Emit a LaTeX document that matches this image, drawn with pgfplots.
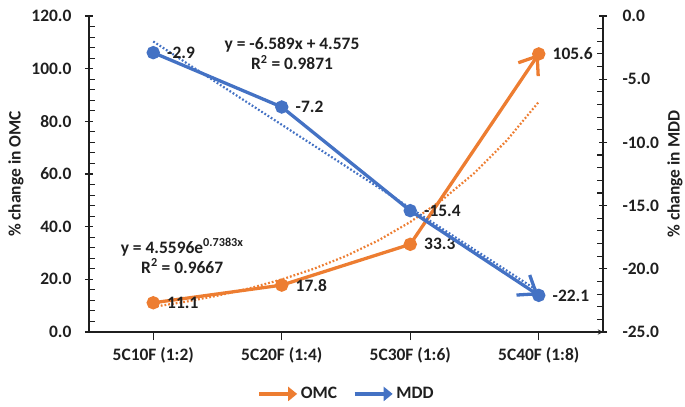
\documentclass[border=0pt]{standalone}
\usepackage{pgfplots}
\pgfplotsset{compat=1.18}
\usepackage{fontspec}
\setmainfont{Carlito}
\usetikzlibrary{arrows.meta}
\definecolor{omc}{HTML}{ED7D31}
\definecolor{mdd}{HTML}{4472C4}
\definecolor{txt}{HTML}{1F1F1F}
\newcommand{\chartfont}{\fontsize{17.5}{20}\selectfont\bfseries}

\pgfplotsset{
  base/.style={
    width=514bp, height=316bp, scale only axis,
    xmin=-0.5, xmax=3.5,
    /pgf/number format/assume math mode=true,
    /pgf/number format/fixed, /pgf/number format/fixed zerofill,
    /pgf/number format/precision=1,
    tick label style={font=\chartfont, text=txt},
    label style={font=\chartfont, text=txt},
    axis line style={line width=1.3pt, txt},
    tick style={line width=1.1pt, txt},
    tick align=center, major tick length=8bp, minor tick length=6bp,
    clip=false,
  },
  trend/.style={line width=2.2pt, dash pattern=on 1.8pt off 2pt, forget plot},
  series/.style={line width=3.3pt, mark=*, mark size=5bp, forget plot,
    -{Straight Barb[length=16bp, width=24bp]},
    nodes near coords, point meta=y,
    every node near coord/.append style={font=\chartfont, text=txt, anchor=west, xshift=9bp}},
}

\begin{document}
\begin{tikzpicture}
% left axis: OMC
\begin{axis}[base,
  axis x line=bottom, axis y line*=left,
  ymin=0, ymax=120, ytick={0,20,...,120}, minor y tick num=4,
  minor y tick style={xshift=3bp},
  yticklabel style={xshift=-10bp},
  xtick={0,1,2,3},
  xticklabels={5C10F (1:2),5C20F (1:4),5C30F (1:6),5C40F (1:8)},
  x tick style={yshift=-4bp},
  xticklabel style={yshift=-8bp},
  ylabel={\% change in OMC},
  ylabel style={at={(axis description cs:-0.142,0.5)}, anchor=center, rotate=0},
]
% exponential trendline y = 4.5596 e^{0.7383 x}
\addplot[trend, omc] coordinates {
  (0,9.540) (0.25,11.474) (0.5,13.800) (0.75,16.598) (1,19.963)
  (1.25,24.010) (1.5,28.877) (1.75,34.731) (2,41.770) (2.25,50.233)
  (2.5,60.42) (2.75,72.67) (3,87.39)};
\addplot[series, omc] coordinates {(0,11.1) (1,17.8) (2,33.3) (3,105.6)};
\node[font=\chartfont, text=txt, align=center] at (axis cs:0.225,28.9)
  {y = 4.5596e\textsuperscript{0.7383x}\\R\textsuperscript{2} = 0.9667};
\end{axis}
% right axis: MDD
\begin{axis}[base,
  axis x line=none, axis y line*=right,
  ymin=-25, ymax=0, ytick={-25,-20,...,0}, minor y tick num=4,
  minor y tick style={xshift=-3bp},
  yticklabel style={xshift=12bp},
  ylabel={\% change in MDD},
  ylabel style={at={(axis description cs:1.140,0.5)}, anchor=center, rotate=0},
  legend style={at={(axis description cs:0.501,-0.196)}, anchor=center, draw=none,
    font=\chartfont, text=txt, legend columns=2,
    /tikz/every even column/.append style={column sep=14bp}},
  legend image code/.code={
    \draw[#1, line width=3.3pt, -{Triangle[length=9bp, width=14bp]}]
      (0bp,0bp) -- (38bp,0bp);},
]
% linear trendline y = -6.589 x + 4.575
\addplot[trend, mdd] coordinates {(0,-2.014) (3,-21.782)};
\addplot[series, mdd] coordinates {(0,-2.9) (1,-7.2) (2,-15.4) (3,-22.1)};
\node[font=\chartfont, text=txt, align=center] at (axis cs:1.08,-3.0)
  {y = -6.589x + 4.575\\R\textsuperscript{2} = 0.9871};
\addlegendimage{omc}
\addlegendentry{OMC}
\addlegendimage{mdd}
\addlegendentry{MDD}
\end{axis}
\pgfresetboundingbox
\useasboundingbox (-89bp,-75bp) rectangle (596bp,332bp);
\end{tikzpicture}
\end{document}
